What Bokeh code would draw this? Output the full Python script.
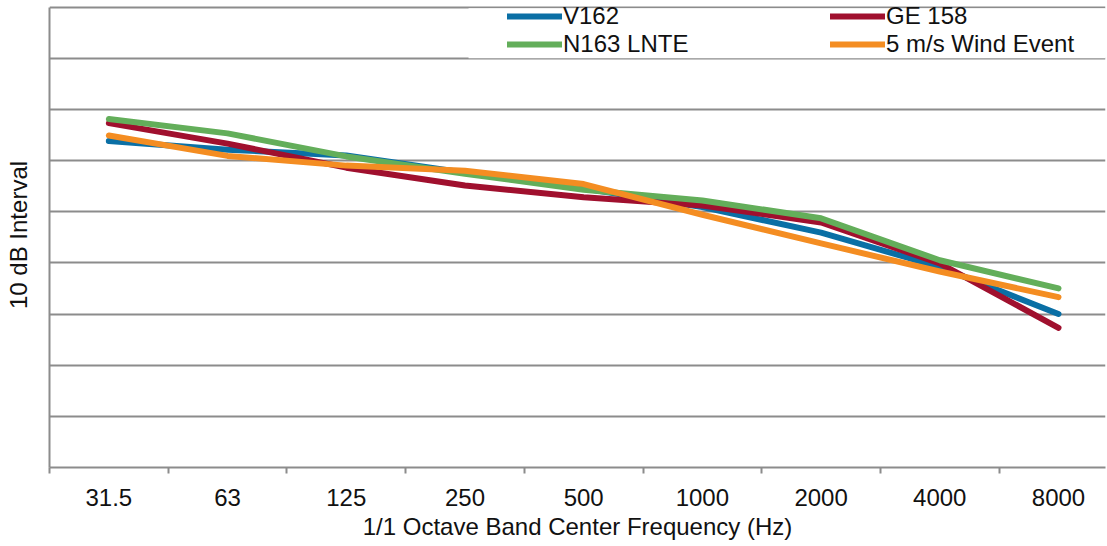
from bokeh.plotting import figure
from bokeh.models import Range1d, FixedTicker, Legend, LegendItem, BoxAnnotation
from bokeh.embed import file_html
from bokeh.resources import INLINE

# ---- data ----
categories = ["31.5", "63", "125", "250", "500", "1000", "2000", "4000", "8000"]
v162 = [63.8, 62.1, 61.0, 57.6, 54.5, 50.9, 45.9, 39.2, 30.0]
ge158 = [67.3, 63.3, 58.6, 55.1, 52.8, 51.2, 47.9, 39.9, 27.3]
n163_lnte = [68.1, 65.3, 60.8, 57.4, 54.3, 52.2, 48.7, 40.5, 35.0]
wind_5ms = [64.9, 60.9, 59.0, 58.0, 55.4, 49.4, 43.8, 38.3, 33.3]
y_grid_values = [0, 10, 20, 30, 40, 50, 60, 70, 80, 90]

series_names = ["V162", "GE 158", "N163 LNTE", "5 m/s Wind Event"]
series_values = [v162, ge158, n163_lnte, wind_5ms]
series_colors = ["#0A6FA5", "#A0102E", "#63AE5A", "#F48D22"]

FONT = "Liberation Sans"
GRID = "#8c8c8c"
TEXT = "#111111"
FS = "24px"

x_pos = [i + 0.5 for i in range(len(categories))]

p = figure(width=1107, height=546, output_backend="svg", toolbar_location=None,
           x_range=Range1d(0, 8.896), y_range=Range1d(0, 90.88),
           min_border_left=49, min_border_right=2, min_border_top=2,
           min_border_bottom=79)
p.outline_line_color = None
p.background_fill_color = "white"
p.border_fill_color = "white"

# grid
p.xgrid.visible = False
p.ygrid.ticker = FixedTicker(ticks=y_grid_values)
p.ygrid.grid_line_color = GRID
p.ygrid.grid_line_width = 2

# x axis
xa = p.xaxis[0]
xa.ticker = FixedTicker(ticks=x_pos, minor_ticks=list(range(len(categories) + 1)))
xa.major_label_overrides = {x: c for x, c in zip(x_pos, categories)}
xa.major_tick_out = 0
xa.major_tick_in = 0
xa.minor_tick_out = 6
xa.minor_tick_in = 0
xa.minor_tick_line_color = GRID
xa.minor_tick_line_width = 2
xa.axis_line_color = GRID
xa.axis_line_width = 2
xa.major_label_text_font = FONT
xa.major_label_text_font_size = FS
xa.major_label_text_color = TEXT
xa.major_label_standoff = 15
xa.axis_label = "1/1 Octave Band Center Frequency (Hz)"
xa.axis_label_text_font = FONT
xa.axis_label_text_font_size = FS
xa.axis_label_text_font_style = "normal"
xa.axis_label_text_color = TEXT
xa.axis_label_standoff = 4

# y axis
ya = p.yaxis[0]
ya.ticker = FixedTicker(ticks=[])
ya.bounds = (y_grid_values[0], y_grid_values[-1])
ya.axis_line_color = GRID
ya.axis_line_width = 2
ya.major_tick_out = 0
ya.major_tick_in = 0
ya.minor_tick_out = 0
ya.minor_tick_in = 0
ya.axis_label = "10 dB Interval"
ya.axis_label_text_font = FONT
ya.axis_label_text_font_size = FS
ya.axis_label_text_font_style = "normal"
ya.axis_label_text_color = TEXT
ya.axis_label_standoff = 18

# lines
renderers = []
for name, vals, col in zip(series_names, series_values, series_colors):
    r = p.line(x_pos, vals, line_color=col, line_width=6,
               line_join="round", line_cap="round")
    renderers.append(r)

# white legend area covering the grid
p.add_layout(BoxAnnotation(left=3.53, right=9.5, bottom=80, top=89.75,
                           fill_color="white", fill_alpha=1.0, line_color=None))

def make_legend(idx, loc):
    lg = Legend(items=[LegendItem(label=series_names[i], renderers=[renderers[i]]) for i in idx],
                location=loc, orientation="vertical")
    lg.label_text_font = FONT
    lg.label_text_font_size = FS
    lg.label_text_color = TEXT
    lg.glyph_width = 55
    lg.glyph_height = 28
    lg.label_height = 28
    lg.spacing = 0
    lg.padding = 0
    lg.margin = 0
    lg.label_standoff = 1
    lg.border_line_color = None
    lg.background_fill_alpha = 0
    return lg

p.add_layout(make_legend([0, 2], (458, 409)))
p.add_layout(make_legend([1, 3], (781, 409)))

open("out.html", "w").write(file_html(p, INLINE))
